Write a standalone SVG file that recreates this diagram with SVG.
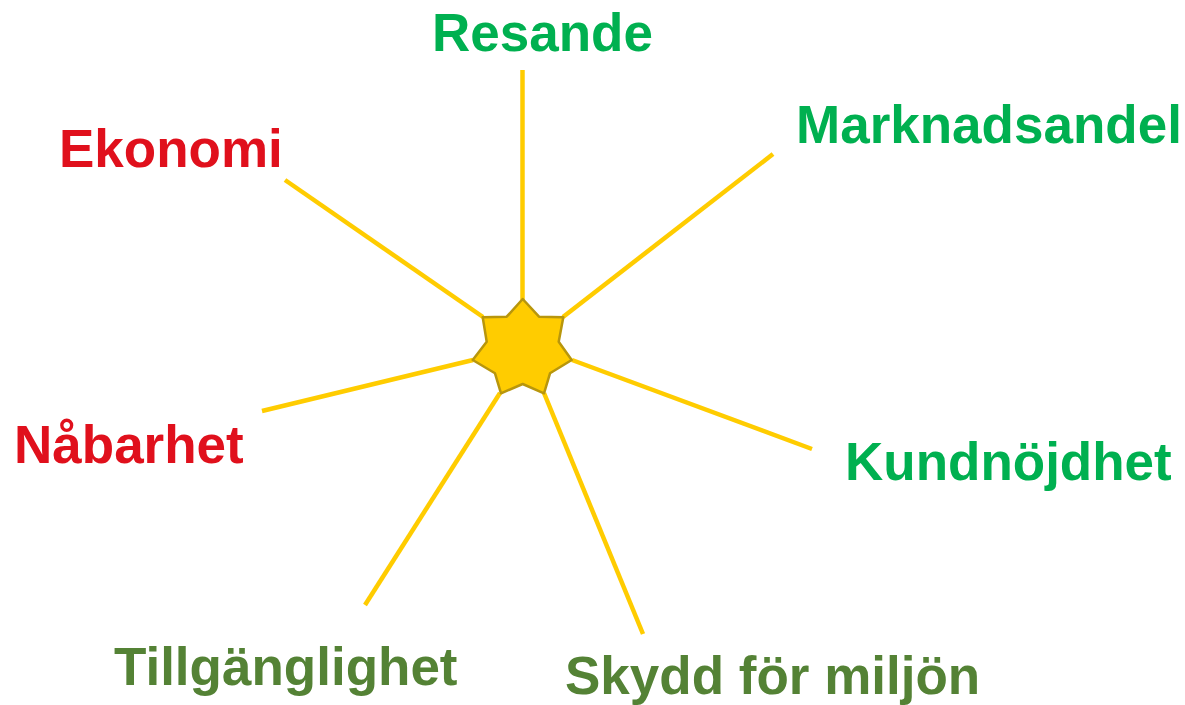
<svg xmlns="http://www.w3.org/2000/svg" width="1185" height="705" viewBox="0 0 1185 705">
<style>
.lbl{font-family:"Liberation Sans",Arial,sans-serif;font-weight:bold;font-size:53px}
.g{fill:#00b050}.r{fill:#e0101c}.o{fill:#548235}
.ray{stroke:#ffcc00;stroke-width:4.5;fill:none}
</style>
<rect width="1185" height="705" fill="#ffffff"/>
<g id="connectors">
<line class="ray" x1="522.5" y1="70" x2="522.5" y2="300"/>
<line class="ray" x1="773" y1="154" x2="563" y2="317"/>
<line class="ray" x1="285" y1="180" x2="483" y2="317"/>
<line class="ray" x1="262" y1="411" x2="473" y2="360"/>
<line class="ray" x1="812" y1="449" x2="572" y2="360"/>
<line class="ray" x1="365" y1="605" x2="500" y2="393"/>
<line class="ray" x1="643" y1="634" x2="544" y2="393"/>
</g>
<g id="star">
<polygon points="522.7,299 539,316.7 563.3,317.3 558.7,341.7 571.7,360 550,373.3 544,393.3 522.7,384 501,393.3 495,373.3 472.7,360 486.7,341.7 482.7,317.3 506.7,316.7" fill="#ffcc00" stroke="#b8960c" stroke-width="2.5" stroke-linejoin="round"/>
</g>
<g id="resande"><text class="lbl g" x="432" y="51">Resande</text></g>
<g id="marknadsandel"><text class="lbl g" x="796" y="143">Marknadsandel</text></g>
<g id="ekonomi"><text class="lbl r" x="59" y="167">Ekonomi</text></g>
<g id="nabarhet"><text class="lbl r" x="14" y="463">Nåbarhet</text></g>
<g id="kundnojdhet"><text class="lbl g" x="845" y="480">Kundnöjdhet</text></g>
<g id="tillganglighet"><text class="lbl o" x="114" y="685">Tillgänglighet</text></g>
<g id="skydd"><text class="lbl o" x="565" y="694">Skydd för miljön</text></g>
</svg>
